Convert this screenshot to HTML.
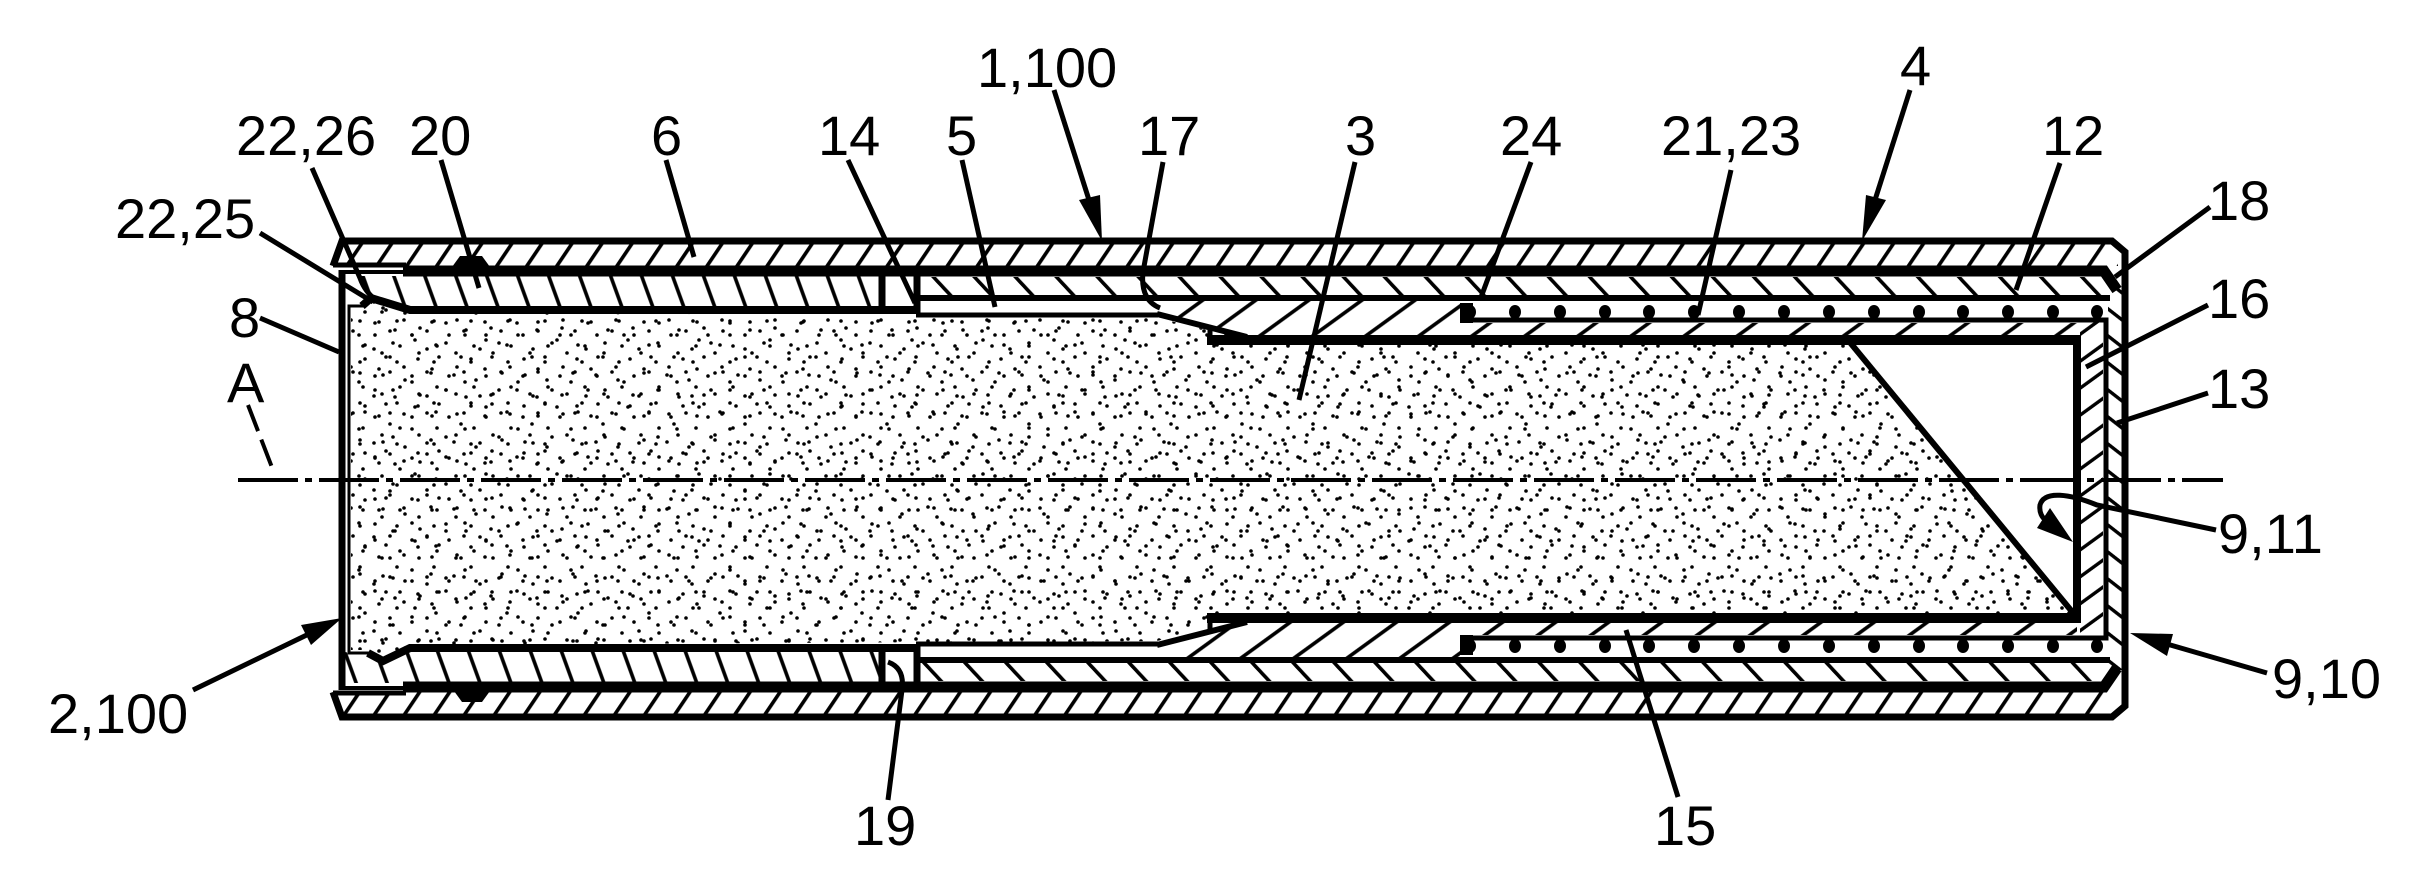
<!DOCTYPE html>
<html>
<head>
<meta charset="utf-8">
<style>
html,body{margin:0;padding:0;background:#fff;}
svg{display:block;}
text{font-family:"Liberation Sans",Arial,sans-serif;font-size:56px;fill:#000;}
</style>
</head>
<body>
<svg width="2411" height="888" viewBox="0 0 2411 888" xmlns="http://www.w3.org/2000/svg">
<defs>
  <!-- stipple patterns -->
  <pattern id="s1" patternUnits="userSpaceOnUse" width="37" height="41">
    <circle cx="5" cy="7" r="1.8"/><circle cx="20" cy="3" r="1.8"/><circle cx="30" cy="18" r="1.8"/><circle cx="12" cy="25" r="1.8"/><circle cx="27" cy="34" r="1.8"/>
  </pattern>
  <pattern id="s2" patternUnits="userSpaceOnUse" width="53" height="47">
    <circle cx="8" cy="40" r="1.8"/><circle cx="22" cy="14" r="1.8"/><circle cx="41" cy="6" r="1.8"/><circle cx="47" cy="30" r="1.8"/><circle cx="33" cy="38" r="1.8"/><circle cx="15" cy="28" r="1.8"/><circle cx="3" cy="20" r="1.8"/>
  </pattern>
  <pattern id="s3" patternUnits="userSpaceOnUse" width="71" height="67">
    <circle cx="10" cy="10" r="1.8"/><circle cx="35" cy="22" r="1.8"/><circle cx="60" cy="5" r="1.8"/><circle cx="50" cy="45" r="1.8"/><circle cx="20" cy="55" r="1.8"/><circle cx="65" cy="60" r="1.8"/><circle cx="5" cy="38" r="1.8"/><circle cx="40" cy="62" r="1.8"/><circle cx="28" cy="40" r="1.8"/>
  </pattern>
  <!-- hatch patterns -->
  <pattern id="pO" patternUnits="userSpaceOnUse" width="24.9" height="20" patternTransform="rotate(34)">
    <rect width="24.9" height="20" fill="#fff"/><rect x="11" y="0" width="3.6" height="20" fill="#000"/>
  </pattern>
  <pattern id="p6" patternUnits="userSpaceOnUse" width="29.1" height="20" patternTransform="rotate(-20)">
    <rect width="29.1" height="20" fill="#fff"/><rect x="12" y="0" width="3.6" height="20" fill="#000"/>
  </pattern>
  <pattern id="p5" patternUnits="userSpaceOnUse" width="30" height="20" patternTransform="rotate(-43)">
    <rect width="30" height="20" fill="#fff"/><rect x="12" y="0" width="3.6" height="20" fill="#000"/>
  </pattern>
  <pattern id="pS" patternUnits="userSpaceOnUse" width="31.2" height="20" patternTransform="rotate(54)">
    <rect width="31.2" height="20" fill="#fff"/><rect x="12" y="0" width="3.6" height="20" fill="#000"/>
  </pattern>
  <pattern id="pC" patternUnits="userSpaceOnUse" width="21.8" height="20" patternTransform="rotate(54)">
    <rect width="21.8" height="20" fill="#fff"/><rect x="9" y="0" width="3.4" height="20" fill="#000"/>
  </pattern>
  <pattern id="pE" patternUnits="userSpaceOnUse" width="21.3" height="20" patternTransform="rotate(-52)">
    <rect width="21.3" height="20" fill="#fff"/><rect x="9" y="0" width="3.4" height="20" fill="#000"/>
  </pattern>
</defs>

<rect width="2411" height="888" fill="#fff"/>

<!-- ============ stippled contents (3) ============ -->
<g>
  <polygon points="351,309 363,309 371,301 410,313 1157,318 1247,339 1848,343 2072,614 1247,616 1157,641 410,645 383,658 370,650 351,650" fill="url(#s1)"/>
  <polygon points="351,309 363,309 371,301 410,313 1157,318 1247,339 1848,343 2072,614 1247,616 1157,641 410,645 383,658 370,650 351,650" fill="url(#s2)"/>
  <polygon points="351,309 363,309 371,301 410,313 1157,318 1247,339 1848,343 2072,614 1247,616 1157,641 410,645 383,658 370,650 351,650" fill="url(#s3)"/>
</g>

<!-- ============ hatched regions ============ -->
<!-- outer tube -->
<polygon points="342,244 2118,244 2118,266 335,266" fill="url(#pO)"/>
<polygon points="335,692 2118,692 2118,714 342,714" fill="url(#pO)"/>
<!-- tube 6 -->
<polygon points="345,276 885,276 885,307 410,307 372,296 363,302 349,302 345,300" fill="url(#p6)"/>
<polygon points="345,652 370,656 383,663 410,651 885,651 885,683 345,683" fill="url(#p6)"/>
<!-- tube 5 / 12 -->
<rect x="921" y="277" width="1185" height="18" fill="url(#p5)"/>
<rect x="921" y="663" width="1185" height="18" fill="url(#p5)"/>
<!-- sleeve 17 / 15 -->
<polygon points="1157,301 1460,301 1460,323 2077,323 2077,336 1247,336 1157,313" fill="url(#pS)"/>
<polygon points="1157,657 1460,657 1460,635 2077,635 2077,622 1247,622 1157,645" fill="url(#pS)"/>
<!-- inner cup wall 16 -->
<rect x="2080" y="322" width="23" height="314" fill="url(#pC)"/>
<!-- end wall 13 -->
<rect x="2108" y="288" width="14" height="382" fill="url(#pE)"/>

<!-- ============ black outlines ============ -->
<g fill="none" stroke="#000" stroke-linejoin="miter">
  <!-- outer tube contour -->
  <path d="M333,266 L342,241 L2112,241 L2125,252 L2125,706 L2112,717 L342,717 L333,692" stroke-width="7"/>
  <!-- outer tube inner lines at left -->
  <path d="M333,265 L406,265" stroke-width="5"/>
  <path d="M333,693 L406,693" stroke-width="5"/>
  <!-- thick boundary lines -->
  <path d="M403,271 L2104,271 L2117,290" stroke-width="11"/>
  <path d="M403,687 L2104,687 L2117,668" stroke-width="11"/>
  <!-- container 8 -->
  <path d="M342,270 L342,690" stroke-width="7"/>
  <path d="M342,272 L405,272" stroke-width="4"/>
  <path d="M342,688 L405,688" stroke-width="4"/>
  <path d="M363,306 L349,306 L349,653 L369,653" stroke-width="3"/>
  <!-- tube 6 right ends -->
  <path d="M882,272 L882,312" stroke-width="7"/>
  <path d="M882,646 L882,687" stroke-width="7"/>
  <!-- contents top / bottom -->
  <path d="M362,306 L371,298 L410,310 L918,310" stroke-width="8"/>
  <path d="M916,315 L1158,315" stroke-width="5"/>
  <path d="M1157,314 L1247,337" stroke-width="6"/>
  <path d="M368,653 L383,661 L410,648 L918,648" stroke-width="8"/>
  <path d="M916,644 L1158,644" stroke-width="5"/>
  <path d="M1157,645 L1247,622" stroke-width="6"/>
  <!-- sleeve lines -->
  <path d="M1207,340 L2081,340" stroke-width="10"/>
  <path d="M1210,329 L1210,345" stroke-width="5"/>
  <path d="M1207,618 L2081,618" stroke-width="10"/>
  <path d="M1210,613 L1210,629" stroke-width="5"/>
  <path d="M2077,336 L2077,622" stroke-width="8"/>
  <!-- diagonal -->
  <path d="M1848,340 L2074,614" stroke-width="6"/>
  <!-- tube 5 -->
  <path d="M917,271 L917,313" stroke-width="7"/>
  <path d="M917,645 L917,687" stroke-width="7"/>
  <path d="M914,298 L2110,298" stroke-width="6"/>
  <path d="M914,660 L2110,660" stroke-width="6"/>
  <!-- coil band -->
  <path d="M1460,320 L2106,320 L2106,638 L1460,638" stroke-width="5"/>
</g>

<!-- bead 20 -->
<polygon points="452,267 460,256 482,256 490,267" fill="#000"/>
<polygon points="454,691 462,702 482,702 490,691" fill="#000"/>
<!-- coil start blocks -->
<rect x="1460" y="303" width="13" height="20" fill="#000"/>
<rect x="1460" y="635" width="13" height="20" fill="#000"/>

<!-- coil dots -->
<g fill="#000">
  <ellipse cx="1470" cy="312" rx="6" ry="7"/><ellipse cx="1515" cy="312" rx="6" ry="7"/><ellipse cx="1560" cy="312" rx="6" ry="7"/><ellipse cx="1605" cy="312" rx="6" ry="7"/><ellipse cx="1649" cy="312" rx="6" ry="7"/><ellipse cx="1694" cy="312" rx="6" ry="7"/><ellipse cx="1739" cy="312" rx="6" ry="7"/><ellipse cx="1784" cy="312" rx="6" ry="7"/><ellipse cx="1829" cy="312" rx="6" ry="7"/><ellipse cx="1874" cy="312" rx="6" ry="7"/><ellipse cx="1919" cy="312" rx="6" ry="7"/><ellipse cx="1963" cy="312" rx="6" ry="7"/><ellipse cx="2008" cy="312" rx="6" ry="7"/><ellipse cx="2053" cy="312" rx="6" ry="7"/><ellipse cx="2097" cy="312" rx="6" ry="7"/>
  <ellipse cx="1470" cy="646" rx="6" ry="7"/><ellipse cx="1515" cy="646" rx="6" ry="7"/><ellipse cx="1560" cy="646" rx="6" ry="7"/><ellipse cx="1605" cy="646" rx="6" ry="7"/><ellipse cx="1649" cy="646" rx="6" ry="7"/><ellipse cx="1694" cy="646" rx="6" ry="7"/><ellipse cx="1739" cy="646" rx="6" ry="7"/><ellipse cx="1784" cy="646" rx="6" ry="7"/><ellipse cx="1829" cy="646" rx="6" ry="7"/><ellipse cx="1874" cy="646" rx="6" ry="7"/><ellipse cx="1919" cy="646" rx="6" ry="7"/><ellipse cx="1963" cy="646" rx="6" ry="7"/><ellipse cx="2008" cy="646" rx="6" ry="7"/><ellipse cx="2053" cy="646" rx="6" ry="7"/><ellipse cx="2097" cy="646" rx="6" ry="7"/>
</g>

<!-- ============ axis A ============ -->
<path d="M238,480 L2223,480" stroke="#000" stroke-width="4" stroke-dasharray="60 7 7 7" fill="none"/>
<path d="M248,405 L273,470" stroke="#000" stroke-width="4" stroke-dasharray="28 9" fill="none"/>

<!-- ============ leaders ============ -->
<g fill="none" stroke="#000" stroke-width="5" stroke-linecap="butt">
  <path d="M1054,90 L1096,222"/>
  <path d="M1910,90 L1868,222"/>
  <path d="M312,168 L360,278 Q365,292 376,300"/>
  <path d="M441,160 L479,288"/>
  <path d="M666,160 L694,257"/>
  <path d="M848,160 Q890,250 915,303"/>
  <path d="M962,160 L995,307"/>
  <path d="M1163,162 L1143,272 Q1140,300 1160,308"/>
  <path d="M1355,162 L1299,400"/>
  <path d="M1531,162 L1480,300"/>
  <path d="M1731,170 L1698,315"/>
  <path d="M2060,163 L2016,290"/>
  <path d="M260,233 L373,302"/>
  <path d="M2210,207 L2115,277"/>
  <path d="M260,318 L339,352"/>
  <path d="M2208,305 L2086,367"/>
  <path d="M2208,393 L2117,423"/>
  <path d="M2216,530 L2097,505 C2070,494 2044,490 2040,505 C2039,512 2042,518 2046,520"/>
  <path d="M2267,673 L2160,642"/>
  <path d="M193,690 L315,631"/>
  <path d="M888,800 L902,690 Q905,668 888,662"/>
  <path d="M1678,797 L1626,630"/>
</g>
<!-- arrowheads -->
<g fill="#000">
  <polygon points="1102,241 1079,200 1100,195"/>
  <polygon points="1862,241 1866,195 1886,200"/>
  <polygon points="2130,633 2173,634 2167,656"/>
  <polygon points="342,618 311,645 301,625"/>
  <polygon points="2073,542 2037,528 2050,508"/>
</g>

<!-- ============ labels ============ -->
<text x="977" y="87">1,100</text>
<text x="1900" y="85">4</text>
<text x="236" y="155">22,26</text>
<text x="409" y="155">20</text>
<text x="651" y="155">6</text>
<text x="818" y="155">14</text>
<text x="946" y="155">5</text>
<text x="1138" y="155">17</text>
<text x="1345" y="155">3</text>
<text x="1500" y="155">24</text>
<text x="1661" y="155">21,23</text>
<text x="2042" y="155">12</text>
<text x="115" y="238">22,25</text>
<text x="2208" y="220">18</text>
<text x="229" y="337">8</text>
<text x="2208" y="318">16</text>
<text x="227" y="402">A</text>
<text x="2208" y="408">13</text>
<text x="2218" y="553">9,11</text>
<text x="2272" y="698">9,10</text>
<text x="48" y="733">2,100</text>
<text x="854" y="845">19</text>
<text x="1654" y="845">15</text>
</svg>
</body>
</html>
